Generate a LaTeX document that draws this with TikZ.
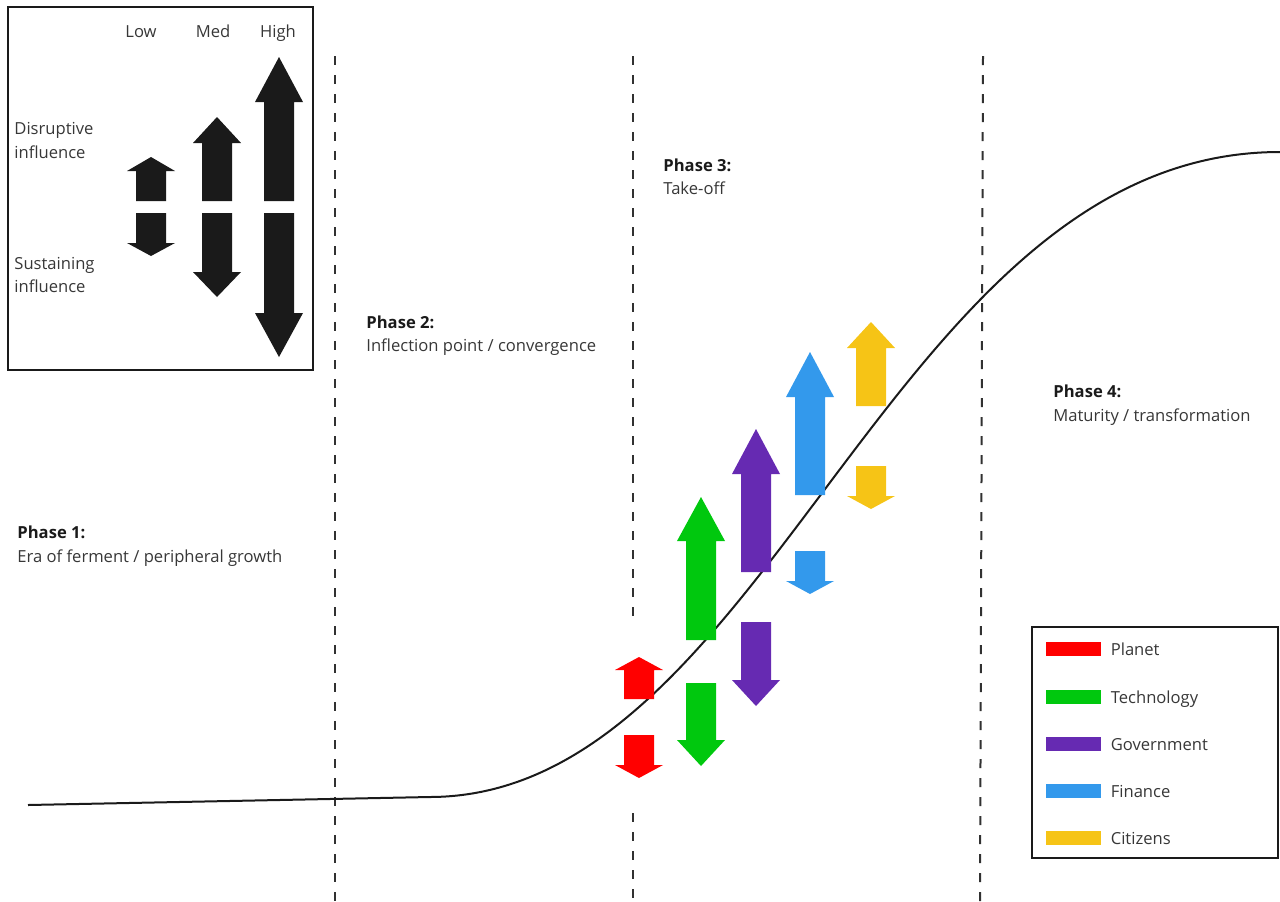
\documentclass[tikz,border=0pt]{standalone}
\usepackage{fontspec}
\setmainfont{Open Sans}
\usepackage{tikz}
\usetikzlibrary{positioning}

\definecolor{planetc}{RGB}{255,0,0}
\definecolor{techc}{RGB}{0,200,14}
\definecolor{govc}{RGB}{102,42,178}
\definecolor{financec}{RGB}{51,153,236}
\definecolor{citizenc}{RGB}{246,196,22}
\definecolor{inkc}{RGB}{26,26,26}
\definecolor{txtc}{RGB}{55,55,55}

% colour, x, shaft end, head base, tip
\newcommand{\fatarrow}[5]{%
  \fill[#1] (#2-15,#3) -- (#2-15,#4) -- (#2-24,#4) -- (#2,#5)
    -- (#2+24,#4) -- (#2+15,#4) -- (#2+15,#3) -- cycle;}

\begin{document}
\begin{tikzpicture}[x=0.5pt, y=-0.5pt,
  txt/.style={inner sep=0pt, text=txtc, font=\fontsize{8.3}{9.5}\selectfont},
  ttl/.style={txt, text=inkc, font=\fontsize{8.3}{9.5}\selectfont\bfseries},
  frame/.style={line width=1.1pt, draw=inkc},
  phaseline/.style={line width=1pt, draw=inkc!90, dash pattern=on 4.5pt off 5pt},
  swatch/.style={minimum width=27.5pt, minimum height=7pt, inner sep=0pt}]
  \useasboundingbox (0,0) rectangle (1280,901);
  % phase borders
  \draw[phaseline] (335,56) -- (335,901);
  \draw[phaseline] (633,56) -- (633,617);
  \draw[phaseline] (633,813) -- (633,901);
  \draw[phaseline] (983,56) -- (980,901);
  % s-curve
  \draw[line width=1pt, inkc] (28,805) -- (430,797)
    .. controls (770,796) and (890,152) .. (1280,152);
  % key for influence
  \draw[frame] (8,7) rectangle (313,370);
  \node[txt, anchor=base] (low) at (141,37) {Low};
  \node[txt, anchor=base] (med) at (213,37) {Med};
  \node[txt, anchor=base] (high) at (278,37) {High};
  \node[txt, anchor=base west] (dis1) at (14,134) {Disruptive};
  \node[txt, anchor=base west] (dis2) at (14,158) {influence};
  \node[txt, anchor=base west] (sus1) at (14,269) {Sustaining};
  \node[txt, anchor=base west] (sus2) at (14,292) {influence};
  \foreach \x/\uh/\ut/\dh/\dt in {151/171/157/243/256, 217/143/117/272/297, 279/102/57/313/357}{
    \fatarrow{inkc}{\x}{201}{\uh}{\ut}
    \fatarrow{inkc}{\x}{213}{\dh}{\dt}
  }
  % phase labels
  \node[ttl, anchor=base west] (ph1) at (17,538) {Phase 1:};
  \node[txt, anchor=base west] (ph1d) at (17,562) {Era of ferment / peripheral growth};
  \node[ttl, anchor=base west] (ph2) at (366,328) {Phase 2:};
  \node[txt, anchor=base west] (ph2d) at (366,351) {Inflection point / convergence};
  \node[ttl, anchor=base west] (ph3) at (663,171) {Phase 3:};
  \node[txt, anchor=base west] (ph3d) at (663,194) {Take-off};
  \node[ttl, anchor=base west] (ph4) at (1053,397) {Phase 4:};
  \node[txt, anchor=base west] (ph4d) at (1053,421) {Maturity / transformation};
  % forces along the curve
  \foreach \c/\x/\ub/\uh/\ut/\db/\dh/\dt in {
      planetc/639/699/670/657/735/765/778,
      techc/701/640/541/497/683/740/766,
      govc/756/572/474/429/622/680/706,
      financec/810/495/397/352/551/581/594,
      citizenc/871/406/348/322/466/496/509}{
    \fatarrow{\c}{\x}{\ub}{\uh}{\ut}
    \fatarrow{\c}{\x}{\db}{\dh}{\dt}
  }
  % legend
  \draw[frame] (1032,627) rectangle (1278,858);
  \foreach \n/\c/\y/\t in {1/planetc/649/Planet, 2/techc/697/Technology,
      3/govc/744/Government, 4/financec/791/Finance, 5/citizenc/838/Citizens}{
    \node[swatch, fill=\c] (sw\n) at (1073.5,\y) {};
    \node[txt, text height=5.6pt, text depth=1.6pt, yshift=-1pt, right=4.5pt of sw\n] (lab\n) {\t};
  }
\end{tikzpicture}
\end{document}
